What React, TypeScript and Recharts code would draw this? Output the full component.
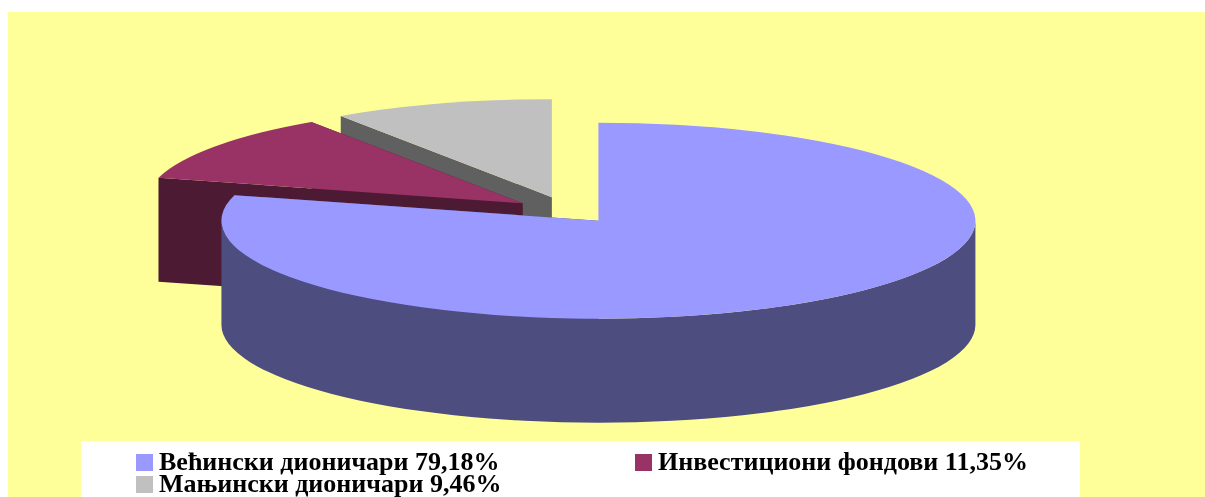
import React from 'react';
import { PieChart, Pie, Legend } from 'recharts';

const CATEGORIES = ['Већински дионичари', 'Инвестициони фондови', 'Мањински дионичари'];
const LABELS = ['79,18%', '11,35%', '9,46%'];
const VALUES = [79.18, 11.35, 9.46];
const FILLS = ['#9999ff', '#993366', '#c0c0c0'];
const WALLS = ['#4d4d80', '#4d1a33', '#606060'];

// drawn back to front: Recharts paints in data order, so the big slice has to come last
const chartData = CATEGORIES.map((name, i) => ({
  name: `${name} ${LABELS[i]}`,
  value: VALUES[i],
  fill: FILLS[i],
  wall: WALLS[i],
})).reverse();

const TILT = 0.26; // ellipse height / width
const DEPTH = 104;
// how far each slice is pulled out, in draw order (small slice, funds, big slice)
const EXPLODE_X = [0.137, 0.145, 0.137];
const EXPLODE_Y = [0.137, 0.119, 0.137];

const rad = (a: number) => (a * Math.PI) / 180;

const Slice3D = (props: any) => {
  const { cx, cy, outerRadius, startAngle, endAngle, fill, wall, index } = props;
  const rx = outerRadius;
  const ry = outerRadius * TILT;
  const mid = (startAngle + endAngle) / 2;
  const ax = cx + EXPLODE_X[index] * rx * Math.cos(rad(mid));
  const ay = cy - EXPLODE_Y[index] * ry * Math.sin(rad(mid));
  const px = (a: number) => ax + rx * Math.cos(rad(a));
  const py = (a: number) => ay - ry * Math.sin(rad(a));
  const large = (x: number, y: number) => (Math.abs(y - x) > 180 ? 1 : 0);

  const radialWall = (a: number) =>
    `M${ax},${ay} L${px(a)},${py(a)} L${px(a)},${py(a) + DEPTH} L${ax},${ay + DEPTH} Z`;

  // only the lower half of the rim faces the viewer
  const lo = Math.max(startAngle, 180);
  const hi = Math.min(endAngle, 360);

  return (
    <g>
      <path d={radialWall(startAngle)} fill={wall} />
      <path d={radialWall(endAngle)} fill={wall} />
      {lo < hi && (
        <path
          d={`M${px(lo)},${py(lo)} A${rx},${ry} 0 ${large(lo, hi)} 0 ${px(hi)},${py(hi)} L${px(hi)},${py(hi) + DEPTH} A${rx},${ry} 0 ${large(lo, hi)} 1 ${px(lo)},${py(lo) + DEPTH} Z`}
          fill={wall}
        />
      )}
      <path
        d={`M${ax},${ay} L${px(startAngle)},${py(startAngle)} A${rx},${ry} 0 ${large(startAngle, endAngle)} 0 ${px(endAngle)},${py(endAngle)} Z`}
        fill={fill}
      />
    </g>
  );
};

const LegendBox = ({ payload }: any) => (
  <div
    style={{
      display: 'grid',
      gridTemplateColumns: '499px 500px',
      gridAutoRows: '22px',
      padding: '10px 0 0 55px',
      boxSizing: 'border-box',
      width: 999,
      height: 56,
      background: '#ffffff',
      fontFamily: '"Liberation Serif", serif',
      fontWeight: 'bold',
      fontSize: 26,
      lineHeight: '22px',
      color: '#000000',
    }}
  >
    {(payload || []).map((item: any) => (
      <div key={item.value} style={{ display: 'flex', alignItems: 'center', whiteSpace: 'nowrap' }}>
        <span style={{ width: 17, height: 17, marginRight: 6, background: item.color, flexShrink: 0 }} />
        {item.value}
      </div>
    ))}
  </div>
);

export default function App() {
  return (
    <div style={{ position: 'fixed', left: 8, top: 12, width: 1197, height: 485, background: '#ffff99' }}>
      <PieChart width={1197} height={485} margin={{ top: 0, right: 0, bottom: 0, left: 0 }}>
        <Pie
          data={chartData}
          dataKey="value"
          nameKey="name"
          cx={559}
          cy={198}
          innerRadius={0}
          outerRadius={377}
          startAngle={90}
          endAngle={450}
          stroke="none"
          labelLine={false}
          shape={Slice3D}
          isAnimationActive={false}
        />
        <Legend
          content={LegendBox}
          wrapperStyle={{ position: 'absolute', left: 73, top: 429, width: 999, height: 56 }}
        />
      </PieChart>
    </div>
  );
}
